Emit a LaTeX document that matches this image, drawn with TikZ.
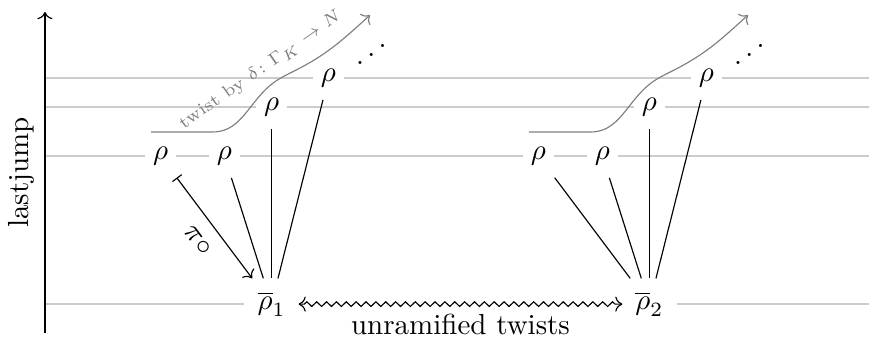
\documentclass[tikz,border=0pt]{standalone}
\usepackage{amsmath}
\usepackage{amssymb}
\usetikzlibrary{arrows.meta,backgrounds,decorations.pathmorphing}
\definecolor{lvlGray}{HTML}{CCCCCC}
\definecolor{twGray}{HTML}{808080}
\tikzset{
  repNode/.style={
    fill=white,
    inner xsep=2.8pt,
    inner ysep=4.2pt
  },
  baseNode/.style={
    fill=white,
    inner sep=4.3pt
  },
  dotsNode/.style={
    inner sep=0pt
  },
  lvlLine/.style={
    draw=lvlGray,
    line width=0.5pt
  },
  projArrow/.style={
    {Bar[width=4pt]}-{To}
  },
  twistArrow/.style={
    -{To},
    draw=twGray
  },
  twistLabel/.style={
    text=twGray,
    font=\fontsize{6}{7}\selectfont,
    rotate=35
  },
  squigArrow/.style={
    {To}-{To},
    decorate,
    decoration={zigzag, amplitude=0.8pt, segment length=3.4pt,
      pre length=2pt, post length=2pt}
  }
}

\begin{document}
\begin{tikzpicture}
  \useasboundingbox (0,0) rectangle (10.53,4.085);

  % left family over rhobar_1
  \node[repNode] (r1) at (1.945,2.194) {$\rho$};
  \node[repNode] (r2) at (2.72,2.194) {$\rho$};
  \node[repNode] (r3) at (3.29,2.788) {$\rho$};
  \node[repNode] (r4) at (3.98,3.139) {$\rho$};
  \node[dotsNode] (d1) at (4.50,3.53) {\reflectbox{$\ddots$}};
  \node[baseNode] (rb1) at (3.29,0.40) {$\overline{\rho}_1$};

  % right family over rhobar_2
  \node[repNode] (r5) at (6.525,2.194) {$\rho$};
  \node[repNode] (r6) at (7.30,2.194) {$\rho$};
  \node[repNode] (r7) at (7.87,2.788) {$\rho$};
  \node[repNode] (r8) at (8.56,3.139) {$\rho$};
  \node[dotsNode] (d2) at (9.08,3.53) {\reflectbox{$\ddots$}};
  \node[baseNode] (rb2) at (7.87,0.40) {$\overline{\rho}_2$};

  \coordinate (axBot) at (0.545,0.05);
  \coordinate (axTop) at (0.545,3.94);
  \draw[-{To}] (axBot) -- node[midway, sloped, above] (ylab) {lastjump} (axTop);

  \begin{scope}[on background layer]
    \draw[lvlLine] (0.545,3.139) -- (10.53,3.139);
    \draw[lvlLine] (0.545,2.788) -- (10.53,2.788);
    \draw[lvlLine] (0.545,2.194) -- (10.53,2.194);
    \draw[lvlLine] (0.545,0.40) -- (rb1);
    \draw[lvlLine] (rb2) -- (10.53,0.40);
  \end{scope}

  \draw[projArrow] (r1) -- node[sloped, below=1.5pt] (pil) {$\pi\circ$} (rb1);
  \draw (r2) -- (rb1);
  \draw (r3) -- (rb1);
  \draw (r4) -- (rb1);
  \draw (r5) -- (rb2);
  \draw (r6) -- (rb2);
  \draw (r7) -- (rb2);
  \draw (r8) -- (rb2);

  \draw[squigArrow] (rb1) -- node[below] (unr) {unramified twists} (rb2);

  % twists by delta
  \draw[twistArrow] (1.83,2.485) -- (2.57,2.485) to[out=0,in=225] (3.212,2.994)
    to[out=45,in=208] (3.636,3.261) to[out=28,in=222] (4.485,3.903);
  \node[twistLabel] (twl) at (3.16,3.235) {twist by $\delta\colon \Gamma_K \to N$};
  \draw[twistArrow] (6.41,2.485) -- (7.15,2.485) to[out=0,in=225] (7.792,2.994)
    to[out=45,in=208] (8.216,3.261) to[out=28,in=222] (9.065,3.903);
\end{tikzpicture}
\end{document}
